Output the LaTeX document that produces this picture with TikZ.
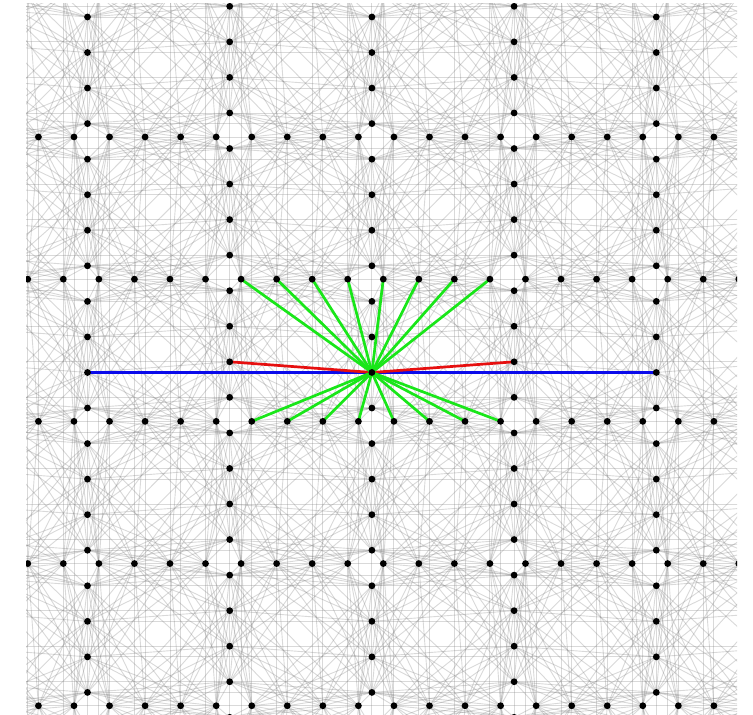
\documentclass[tikz,border=0pt]{standalone}
\usepackage{tikz}
\usepackage{xcolor}

\definecolor{edgegreen}{RGB}{25,230,25}
\definecolor{edgered}{RGB}{230,15,15}
\definecolor{edgeblue}{RGB}{10,10,235}

\begin{document}
\begin{tikzpicture}[x=35.55pt, y=35.55pt,
    bgedge/.style={gray, opacity=0.3, line width=0.9pt},
    hiedge/.style={line width=2.7pt},
    latticedot/.style={fill=black}]
    \useasboundingbox (-26pt,0pt) rectangle (727pt,715pt);

    \begin{scope}
    \clip (0,0) rectangle (20,20);

    % Points on the vertical lines
    \foreach \i in {-1,...,5}{
        \pgfmathsetmacro\p{0.635+0.3*mod(abs(\i),2)}
        \foreach \k in {-4,...,21}
            \coordinate (col-\i-\k) at ({1.73+4*\i}, {\p+\k});
    }
    % Points on the horizontal lines
    \foreach \j in {-1,...,5}{
        \pgfmathsetmacro\q{0.35-0.3*mod(abs(\j),2)}
        \foreach \k in {-4,...,23}
            \coordinate (row-\j-\k) at ({\q+\k}, {0.26+4*\j});
    }

    % Background edges inside each cell
    \foreach \i in {-1,...,4}{
        \pgfmathtruncatemacro\ii{\i+1}
        \foreach \j in {-1,...,4}{
            \pgfmathtruncatemacro\jj{\j+1}
            \foreach \m in {0,...,3}{
                \pgfmathtruncatemacro\ck{4*\j+\m}
                \foreach \n in {0,...,3}{
                    \pgfmathtruncatemacro\rk{4*\i+2+\n}
                    \draw[bgedge] (col-\i-\ck) -- (row-\j-\rk) (col-\i-\ck) -- (row-\jj-\rk)
                        (col-\ii-\ck) -- (row-\j-\rk) (col-\ii-\ck) -- (row-\jj-\rk);
                }
            }
        }
    }

    % Background edges across the vertical lines
    \foreach \i in {-1,...,4}{
        \pgfmathtruncatemacro\ii{\i+1}
        \foreach \k in {-4,...,20}{
            \pgfmathtruncatemacro\kk{\k+1}
            \draw[bgedge] (col-\i-\k) -- (col-\ii-\k);
            \draw[bgedge] (col-\i-\k) -- (col-\i-\kk);
        }
    }
    \foreach \i in {-1,...,3}{
        \pgfmathtruncatemacro\iii{\i+2}
        \foreach \k in {-4,...,21}
            \draw[bgedge] (col-\i-\k) -- (col-\iii-\k);
    }

    % Background edges across the horizontal lines
    \foreach \j in {-1,...,4}{
        \pgfmathtruncatemacro\jj{\j+1}
        \foreach \k in {-4,...,22}{
            \pgfmathtruncatemacro\kk{\k+1}
            \draw[bgedge] (row-\j-\k) -- (row-\jj-\k);
            \draw[bgedge] (row-\j-\k) -- (row-\j-\kk);
        }
    }
    \foreach \j in {-1,...,3}{
        \pgfmathtruncatemacro\jjj{\j+2}
        \foreach \k in {-4,...,23}
            \draw[bgedge] (row-\j-\k) -- (row-\jjj-\k);
    }

    % Highlighted edges of the middle point
    \draw[hiedge, edgeblue] (col-0-9) -- (col-2-9) -- (col-4-9);
    \draw[hiedge, edgered] (col-1-9) -- (col-2-9) -- (col-3-9);
    \foreach \k in {6,...,13}
        \draw[hiedge, edgegreen] (col-2-9) -- (row-3-\k) (col-2-9) -- (row-2-\k);

    % Lattice points
    \foreach \i in {0,...,4}
        \foreach \k in {-1,...,20}
            \fill[latticedot] (col-\i-\k) circle (3.4pt);
    \foreach \j in {0,...,4}
        \foreach \k in {-1,...,20}
            \fill[latticedot] (row-\j-\k) circle (3.4pt);
    \end{scope}
\end{tikzpicture}
\end{document}
